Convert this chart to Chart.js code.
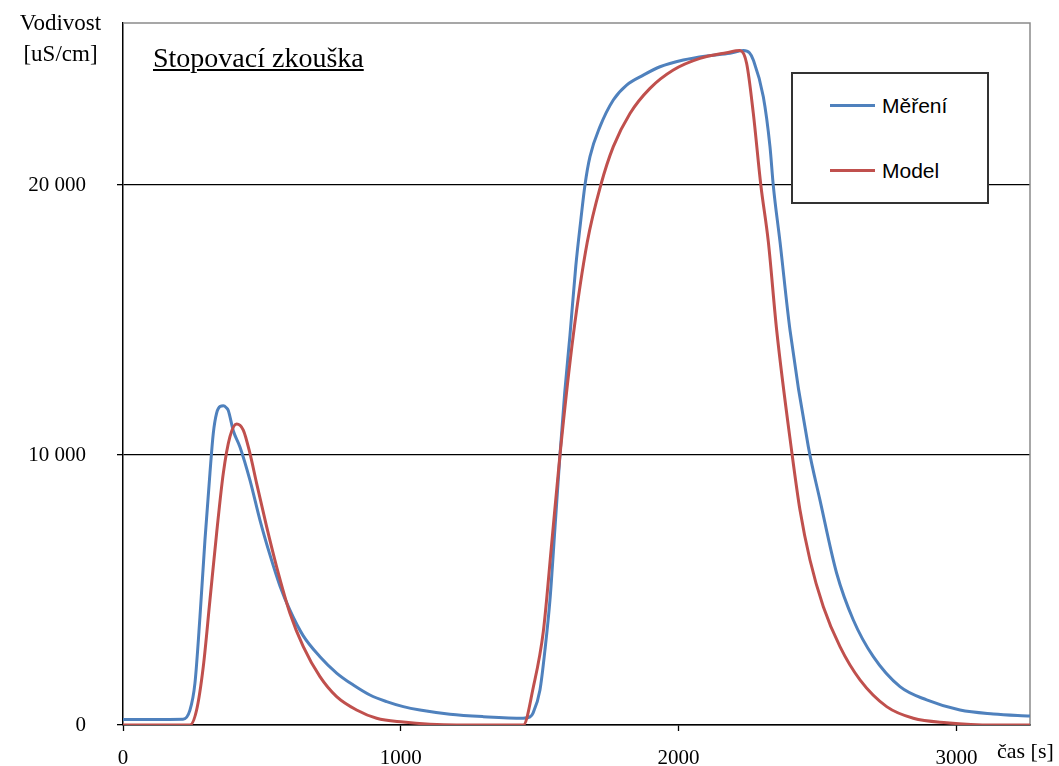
<!DOCTYPE html>
<html>
<head>
<meta charset="utf-8">
<script src="https://cdn.jsdelivr.net/npm/chart.js@4/dist/chart.umd.min.js"></script>
<style>
  body { margin: 0; background: #fff; }
  #wrap { position: relative; width: 1059px; height: 766px; }
  .serif { font-family: 'Liberation Serif', 'Times New Roman', serif; color: #000; position: absolute; }
  #ytitle { left: 0; top: 7px; width: 121px; text-align: center; font-size: 23px; line-height: 31px; }
  #title { left: 153px; top: 44px; font-size: 28px; line-height: 1; text-decoration: underline; }
  #xtitle { left: 997px; top: 740px; font-size: 22px; line-height: 1; }
  #legend { position: absolute; left: 791px; top: 72px; width: 194px; height: 128px; background: #fff;
            border: 2px solid #333; font-family: 'Liberation Sans', Arial, sans-serif; font-size: 21px; }
  .row { position: absolute; left: 37px; height: 24px; }
  .row span.ln { position: absolute; left: 0; top: 10px; width: 45px; height: 3px; }
  .row span.tx { position: absolute; left: 52px; top: 0; line-height: 24px; white-space: nowrap; }
</style>
</head>
<body>
<div id="wrap">
  <canvas id="chart" width="1059" height="766"></canvas>
  <div id="ytitle" class="serif">Vodivost<br>[uS/cm]</div>
  <div id="title" class="serif">Stopovací zkouška</div>
  <div id="xtitle" class="serif">čas [s]</div>
  <div id="legend"></div>
</div>
<script>
// Stopovací zkouška - vodivost v čase
const seriesNames = ['Měření', 'Model'];
const seriesColors = ['#4F81BD', '#C0504D'];

const mereniCas = [0, 100, 216, 241, 259, 277, 295, 313, 325, 337,
    350, 361, 372, 379, 397, 421, 457, 493, 529, 565,
    601, 649, 709, 769, 829, 889, 949, 1009, 1069, 1177,
    1297, 1440, 1465, 1476, 1501, 1519, 1537, 1555, 1573, 1590,
    1609, 1630, 1648, 1663, 1681, 1717, 1765, 1813, 1873, 1933,
    2017, 2101, 2185, 2233, 2255, 2269, 2305, 2329, 2341, 2365,
    2401, 2467, 2509, 2569, 2629, 2701, 2797, 2893, 3013, 3133,
    3265];
const mereniVodivost = [200, 200, 210, 550, 1550, 4000, 6850, 9330, 10800, 11550,
    11800, 11820, 11750, 11650, 10900, 10300, 9070, 7590, 6300, 5150,
    4250, 3300, 2530, 1925, 1480, 1110, 865, 680, 555, 400,
    310, 250, 300, 440, 1300, 2780, 4630, 7300, 10000, 12300,
    14440, 17000, 18700, 20000, 21050, 22160, 23150, 23700, 24070, 24380,
    24630, 24780, 24880, 24980, 24900, 24630, 23270, 21420, 19970, 17900,
    14630, 10310, 8330, 5620, 3890, 2530, 1420, 930, 555, 410,
    330];

const modelCas = [0, 241, 265, 289, 313, 337, 361, 385, 409, 433,
    457, 481, 517, 553, 601, 649, 709, 769, 841, 913,
    1009, 1105, 1200, 1441, 1477, 1513, 1543, 1573, 1621, 1671,
    1720, 1765, 1825, 1897, 1981, 2077, 2173, 2221, 2245, 2269,
    2296, 2323, 2353, 2407, 2437, 2473, 2521, 2581, 2653, 2749,
    2845, 2965, 3133, 3265];
const modelVodivost = [0, 0, 555, 2160, 4630, 7100, 9320, 10680, 11150, 10925,
    10060, 8950, 7345, 5860, 4140, 2900, 1790, 1050, 555, 250,
    110, 30, 0, 0, 1400, 3460, 6700, 10000, 14440, 17870,
    20000, 21420, 22650, 23580, 24260, 24690, 24900, 24980, 24500, 22650,
    20000, 17900, 14630, 10150, 7960, 6110, 4380, 2900, 1670, 680,
    250, 85, 0, 0];

const xTicks = [0, 1000, 2000, 3000];
const yTicks = [0, 10000, 20000];
const xMax = 3265;
const yMax = 26000;

function toPoints(xs, ys) {
    return xs.map((x, i) => ({ x: x, y: ys[i] }));
}

function fmtThousands(v) {
    return String(v).replace(/\B(?=(\d{3})+(?!\d))/g, ' ');
}

// legend box (html)
const legend = document.getElementById('legend');
seriesNames.forEach((name, i) => {
    const row = document.createElement('div');
    row.className = 'row';
    row.style.top = (20 + i * 65) + 'px';
    row.innerHTML = '<span class="ln" style="background:' + seriesColors[i] + '"></span><span class="tx">' + name + '</span>';
    legend.appendChild(row);
});

// top + right frame in gray
const framePlugin = {
    id: 'frame',
    beforeDatasetsDraw(chart) {
        const a = chart.chartArea;
        const ctx = chart.ctx;
        ctx.save();
        ctx.strokeStyle = '#8a8a8a';
        ctx.lineWidth = 1.5;
        ctx.beginPath();
        ctx.moveTo(a.left, a.top);
        ctx.lineTo(a.right, a.top);
        ctx.lineTo(a.right, a.bottom);
        ctx.stroke();
        ctx.restore();
    }
};

const tickFont = { family: "'Liberation Serif', 'Times New Roman', serif", size: 21 };

new Chart(document.getElementById('chart').getContext('2d'), {
    type: 'line',
    data: {
        datasets: [{
            label: seriesNames[0],
            data: toPoints(mereniCas, mereniVodivost),
            borderColor: seriesColors[0],
            borderWidth: 3,
            pointRadius: 0,
            cubicInterpolationMode: 'monotone',
            fill: false,
            order: 1
        }, {
            label: seriesNames[1],
            data: toPoints(modelCas, modelVodivost),
            borderColor: seriesColors[1],
            borderWidth: 3,
            pointRadius: 0,
            cubicInterpolationMode: 'monotone',
            fill: false,
            order: 0
        }]
    },
    options: {
        responsive: false,
        animation: false,
        layout: { padding: { top: 23, right: 29, left: 0, bottom: 0 } },
        plugins: { legend: { display: false }, tooltip: { enabled: false } },
        scales: {
            x: {
                type: 'linear',
                min: 0,
                max: xMax,
                afterBuildTicks: s => { s.ticks = xTicks.map(v => ({ value: v })); },
                afterFit: s => { s.height = 41; s.paddingLeft = 0; s.paddingRight = 0; },
                ticks: { font: tickFont, color: '#000', padding: 15, maxRotation: 0,
                         callback: v => String(v) },
                grid: { drawOnChartArea: false, tickLength: 6, tickColor: '#000', tickWidth: 1.3 },
                border: { color: '#000', width: 1.5 }
            },
            y: {
                min: 0,
                max: yMax,
                afterBuildTicks: s => { s.ticks = yTicks.map(v => ({ value: v })); },
                afterFit: s => { s.width = 123; s.paddingTop = 0; s.paddingBottom = 0; },
                ticks: { font: tickFont, color: '#000', padding: 31,
                         callback: v => fmtThousands(v) },
                grid: { color: '#000', lineWidth: 1.3, tickLength: 6, tickColor: '#000' },
                border: { color: '#000', width: 1.5 }
            }
        }
    },
    plugins: [framePlugin]
});
</script>
</body>
</html>
